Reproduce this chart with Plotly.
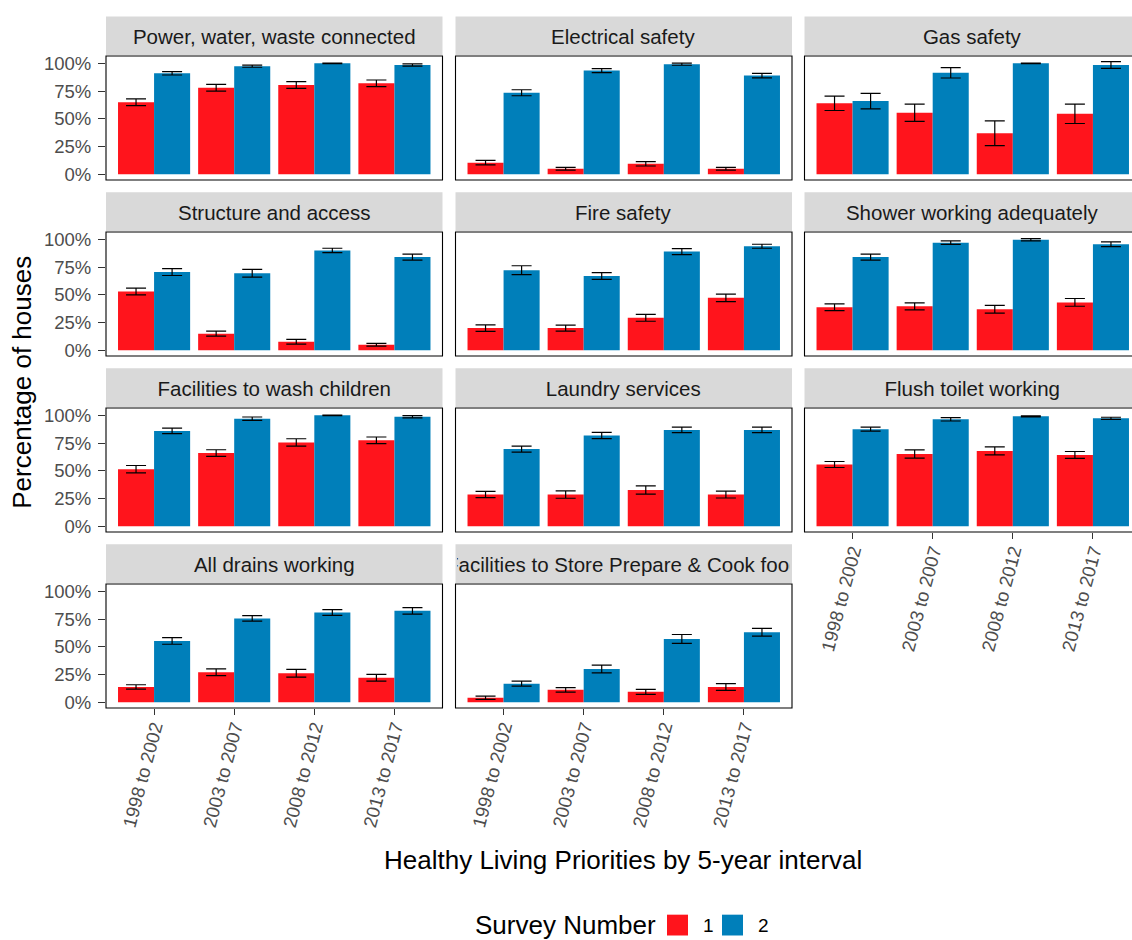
import plotly.graph_objects as go

# Five-year intervals on the x axis
periods = ["1998 to 2002", "2003 to 2007", "2008 to 2012", "2013 to 2017"]

# Facet titles, in wrap order (3 columns)
facets = [
    "Power, water, waste connected", "Electrical safety", "Gas safety",
    "Structure and access", "Fire safety", "Shower working adequately",
    "Facilities to wash children", "Laundry services", "Flush toilet working",
    "All drains working", "Facilities to Store Prepare & Cook food",
]

# Percentage of houses passing, survey 1 / survey 2, with error half-widths
power_s1 = [65, 78, 80.5, 82]
power_s2 = [91, 97.5, 100, 98.5]
power_s1_err = [3, 3, 3, 3]
power_s2_err = [1.5, 1, 0.3, 1]

elec_s1 = [10.5, 5, 9.5, 5]
elec_s2 = [73.5, 93.5, 99.3, 89]
elec_s1_err = [2, 1.3, 2, 1.3]
elec_s2_err = [2.7, 1.8, 1, 2]

gas_s1 = [64, 55.5, 37, 54.5]
gas_s2 = [66, 91.5, 100, 98.5]
gas_s1_err = [6.5, 7.8, 11.2, 8.7]
gas_s2_err = [7, 4.7, 0.3, 3]

struct_s1 = [53, 15, 7.7, 5]
struct_s2 = [70.5, 69.5, 90, 84]
struct_s1_err = [3.1, 2.2, 2.2, 1.3]
struct_s2_err = [3.1, 3.5, 2, 2.7]

fire_s1 = [20, 20, 29.3, 47.3]
fire_s2 = [72.2, 67, 89, 93.8]
fire_s1_err = [3, 2.7, 3.1, 3.4]
fire_s2_err = [4, 3, 2.7, 1.8]

shower_s1 = [38.8, 39.6, 37, 43.2]
shower_s2 = [84, 97, 99.7, 95.6]
shower_s1_err = [3.1, 3.1, 3.5, 3.5]
shower_s2_err = [2.7, 1.6, 1, 2.2]

wash_s1 = [51.5, 66, 75.6, 77.5]
wash_s2 = [86, 97, 100, 98.8]
wash_s1_err = [3.3, 3, 3.3, 3]
wash_s2_err = [2.4, 1.5, 0.3, 1]

laundry_s1 = [28.6, 28.6, 32.7, 28.6]
laundry_s2 = [69.6, 81.8, 86.9, 86.9]
laundry_s1_err = [2.8, 3.3, 3.7, 3.1]
laundry_s2_err = [2.7, 2.8, 2.5, 2.5]

toilet_s1 = [55.7, 65.2, 67.9, 64.3]
toilet_s2 = [87.5, 96.4, 99.1, 97.3]
toilet_s1_err = [2.7, 3.7, 3.6, 3.1]
toilet_s2_err = [1.8, 1.5, 0.5, 1]

drains_s1 = [13.8, 27.1, 26.2, 22.1]
drains_s2 = [55.3, 75.6, 80.9, 82.4]
drains_s1_err = [2, 3, 3.5, 3]
drains_s2_err = [3, 2.5, 2.6, 3]

food_s1 = [4.1, 11.2, 9.4, 13.8]
food_s2 = [16.8, 30, 57.1, 63.2]
food_s1_err = [1.5, 2, 2.2, 3]
food_s2_err = [2.2, 3.5, 4, 3.5]

survey1 = [power_s1, elec_s1, gas_s1, struct_s1, fire_s1, shower_s1,
           wash_s1, laundry_s1, toilet_s1, drains_s1, food_s1]
survey2 = [power_s2, elec_s2, gas_s2, struct_s2, fire_s2, shower_s2,
           wash_s2, laundry_s2, toilet_s2, drains_s2, food_s2]
survey1_err = [power_s1_err, elec_s1_err, gas_s1_err, struct_s1_err, fire_s1_err,
               shower_s1_err, wash_s1_err, laundry_s1_err, toilet_s1_err,
               drains_s1_err, food_s1_err]
survey2_err = [power_s2_err, elec_s2_err, gas_s2_err, struct_s2_err, fire_s2_err,
               shower_s2_err, wash_s2_err, laundry_s2_err, toilet_s2_err,
               drains_s2_err, food_s2_err]

pct_ticks = [0, 25, 50, 75, 100]
pct_labels = ["0%", "25%", "50%", "75%", "100%"]

RED = "#FF141C"
BLUE = "#007FBA"
FONT = "Liberation Sans, Arial, sans-serif"

W, H = 1132, 940
col_left = [106, 455.5, 804.5]
row_top = [53.5, 231, 408.5, 586]
panel_w, panel_h, strip_h = 336.5, 125, 40
bottom_of_col = {0: 9, 1: 10, 2: 8}

fig = go.Figure()
layout = {}
shapes = []
annotations = []

for i, name in enumerate(facets):
    r, c = divmod(i, 3)
    n = "" if i == 0 else str(i + 1)
    left, top = col_left[c], row_top[r]
    right_px = min(left + panel_w, W)
    x_end = -0.6 + 4.2 * (right_px - left) / panel_w

    for vals, errs, color, label in ((survey1[i], survey1_err[i], RED, "1"),
                                     (survey2[i], survey2_err[i], BLUE, "2")):
        fig.add_trace(go.Bar(
            x=periods, y=vals, name=label, marker=dict(color=color, line=dict(width=0)),
            error_y=dict(type="data", array=errs, visible=True, color="black",
                         thickness=1.2, width=10),
            xaxis="x" + n, yaxis="y" + n, showlegend=False,
        ))

    show_x = bottom_of_col[c] == i
    layout["xaxis" + n] = dict(
        domain=[left / W, right_px / W], anchor="y" + n, type="category",
        categoryorder="array", categoryarray=periods,
        range=[-0.6, x_end], showgrid=False, zeroline=False, showline=False,
        showticklabels=show_x, ticks="outside" if show_x else "",
        ticklen=6, tickwidth=1, tickcolor="#333333", tickangle=-75,
        ticklabelstandoff=-6,
        tickfont=dict(family=FONT, size=18.5, color="#4D4D4D"),
    )
    show_y = c == 0
    layout["yaxis" + n] = dict(
        domain=[1 - (top + panel_h) / H, 1 - top / H], anchor="x" + n,
        range=[-5.1, 106.6], tickvals=pct_ticks, ticktext=pct_labels,
        showgrid=False, zeroline=False, showline=False,
        showticklabels=show_y, ticks="outside" if show_y else "",
        ticklen=7, tickwidth=1, tickcolor="#333333", ticklabelstandoff=3,
        tickfont=dict(family=FONT, size=18.5, color="#4D4D4D"),
    )
    # panel border
    shapes.append(dict(type="rect", xref="paper", yref="paper",
                       x0=left / W, x1=(left + panel_w) / W,
                       y0=1 - (top + panel_h) / H, y1=1 - top / H,
                       line=dict(color="black", width=1.1), fillcolor="rgba(0,0,0,0)"))
    # strip
    shapes.append(dict(type="rect", xref="paper", yref="paper",
                       x0=left / W, x1=(left + panel_w) / W,
                       y0=1 - (top - 1) / H, y1=1 - (top - strip_h) / H,
                       line=dict(width=0), fillcolor="#D9D9D9", layer="below"))
    annotations.append(dict(
        text=name, xref="paper", yref="paper",
        x=(left + panel_w / 2) / W, y=1 - (top - strip_h / 2) / H,
        xanchor="center", yanchor="middle", showarrow=False, width=panel_w - 4,
        font=dict(family=FONT, size=20.5, color="#1A1A1A"),
    ))

# Axis titles
annotations.append(dict(text="Healthy Living Priorities by 5-year interval",
                        xref="paper", yref="paper", x=623 / W, y=1 - 864 / H,
                        xanchor="center", yanchor="middle", showarrow=False,
                        font=dict(family=FONT, size=26, color="black")))
annotations.append(dict(text="Percentage of houses", textangle=-90,
                        xref="paper", yref="paper", x=22 / W, y=1 - 383 / H,
                        xanchor="center", yanchor="middle", showarrow=False,
                        font=dict(family=FONT, size=26, color="black")))

# Legend
leg_y = 930
annotations.append(dict(text="Survey Number", xref="paper", yref="paper",
                        x=473 / W, y=1 - leg_y / H, xanchor="left", yanchor="middle",
                        showarrow=False, font=dict(family=FONT, size=26, color="black")))
for key_x, color, label in ((667, RED, "1"), (722, BLUE, "2")):
    shapes.append(dict(type="rect", xref="paper", yref="paper",
                       x0=key_x / W, x1=(key_x + 21) / W,
                       y0=1 - (leg_y + 10.5) / H, y1=1 - (leg_y - 10.5) / H,
                       line=dict(width=0), fillcolor=color))
    annotations.append(dict(text=label, xref="paper", yref="paper",
                            x=(key_x + 34) / W, y=1 - leg_y / H,
                            xanchor="left", yanchor="middle", showarrow=False,
                            font=dict(family=FONT, size=19, color="black")))

fig.update_layout(
    width=W, height=H, margin=dict(l=0, r=0, t=0, b=0),
    paper_bgcolor="white", plot_bgcolor="white",
    barmode="group", bargap=0.1, bargroupgap=0,
    showlegend=False, shapes=shapes, annotations=annotations,
    **layout,
)

fig.write_html("out.html")
